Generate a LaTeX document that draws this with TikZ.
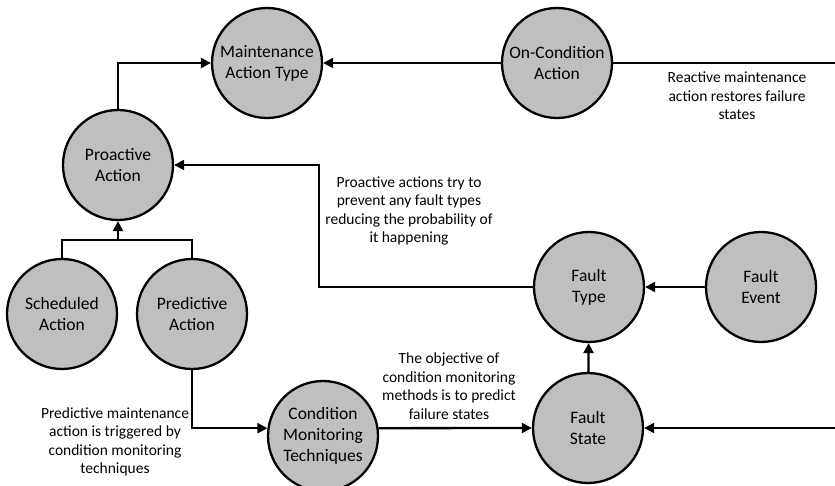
\documentclass[tikz,border=0pt]{standalone}
\usepackage{fontspec}
\setmainfont{Carlito}
\usetikzlibrary{arrows.meta}

\begin{document}
\begin{tikzpicture}[x=1pt,y=-1pt,line width=2.3pt]
	% `state' is used for the grey circles.
	% `remark' is used for the notes beside the lines.
	\tikzstyle{state} = [draw,circle,fill=black!25,minimum size=110pt,inner sep=0pt,align=center,font=\fontsize{17.5}{21}\selectfont]
	\tikzstyle{remark} = [align=center,font=\fontsize{15.5}{18.5}\selectfont]
	\tikzstyle{link} = [-{Triangle[length=10pt,width=10pt]}]
	\useasboundingbox (0,0) rectangle (835,486);
	%
	% Circles.
	\node[state] (mat) at (267,63) {Maintenance\\Action Type};
	\node[state] (oncond) at (557,63) {On-Condition\\Action};
	\node[state] (proact) at (118,165) {Proactive\\Action};
	\node[state] (sched) at (62,314) {Scheduled\\Action};
	\node[state] (pred) at (192,314) {Predictive\\Action};
	\node[state] (cmt) at (323,436) {Condition\\Monitoring\\Techniques};
	\node[state] (ftype) at (589,287) {Fault\\Type};
	\node[state] (fevent) at (761,287) {Fault\\Event};
	\node[state] (fstate) at (588,428) {Fault\\State};
	% Notes.
	\node[remark] (react) at (737,96) {Reactive maintenance\\action restores failure\\states};
	\node[remark] (prevent) at (409,211) {Proactive actions try to\\prevent any fault types\\reducing the probability of\\it happening};
	\node[remark] (objective) at (449,386) {The objective of\\condition monitoring\\methods is to predict\\failure states};
	\node[remark] (trigger) at (115,442) {Predictive maintenance\\action is triggered by\\condition monitoring\\techniques};
	% Loose ends and bends.
	\coordinate (reactin) at (835,63);
	\coordinate (statein) at (835,428);
	\coordinate (bend) at (319,165);
	\coordinate (join) at (118,240);
	% Draw lines.
	\draw[link] (proact.north) |- (mat.west);
	\draw[link] (oncond) -- (mat);
	\draw (oncond) -- (reactin);
	\draw[link] (statein) -- (fstate);
	\draw[link] (fevent) -- (ftype);
	\draw[link] (fstate) -- (ftype);
	\draw[link] (ftype.west) -| (bend) -- (proact.east);
	\draw (sched.north) |- (join) -| (pred.north);
	\draw[link] (join) -- (proact.south);
	\draw[link] (pred.south) |- (cmt.172);
	\draw[link] (cmt.8) -- (fstate.west);
%
\end{tikzpicture}
\end{document}
